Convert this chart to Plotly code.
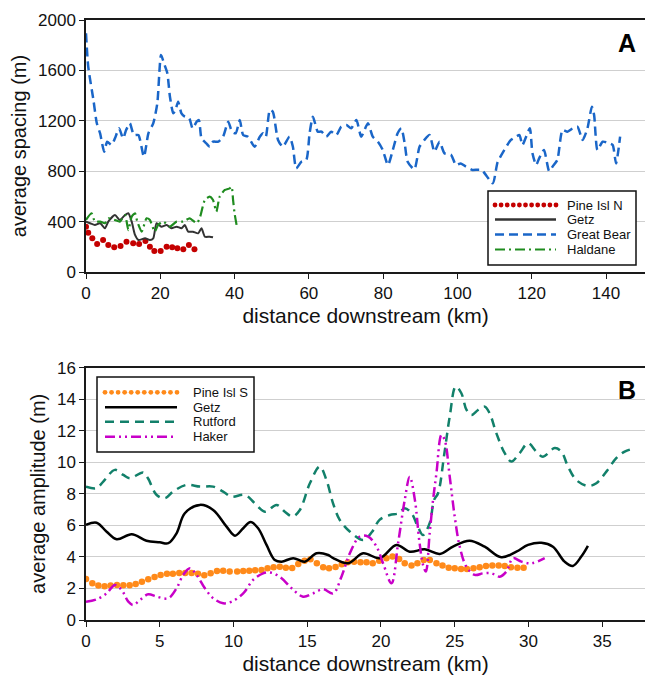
import plotly.graph_objects as go

# ---------------- Panel A: average spacing (m) ----------------
gb_km = [0, 0.6, 2.0, 2.9, 3.8, 4.9, 5.7, 6.9, 7.8, 8.9, 10.0, 10.8, 11.8, 12.9, 14.1, 15.6, 16.8, 18.1, 19.2, 20.2,
         21.0, 21.9, 22.6, 23.5, 24.1, 24.8, 25.7, 26.6, 27.8, 28.7, 29.8, 30.4, 31.1, 32.4, 33.3, 34.2, 35.6, 36.9,
         38.3, 39.3, 40.3, 41.4, 42.3, 43.6, 45.4, 46.8, 47.7, 48.4, 49.5, 50.3, 51.7, 53.0, 54.8, 55.7, 56.6, 58.0,
         59.3, 60.2, 61.1, 62.4, 63.4, 64.7, 66.0, 67.4, 68.7, 70.1, 71.4, 72.8, 74.1, 75.9, 77.2, 78.6, 79.9, 81.3,
         82.6, 83.9, 84.9, 85.8, 86.6, 88.4, 89.8, 91.1, 92.5, 93.8, 95.2, 96.5, 98.3, 99.6, 100.9, 102.3, 104.0,
         106.5, 109.5, 110.8, 112.6, 114.4, 115.8, 116.7, 117.5, 118.5, 119.5, 120.2, 121.2, 122.0, 123.3, 124.7,
         125.6, 126.9, 128.3, 129.6, 131.0, 132.3, 133.7, 135.0, 136.2, 136.8, 137.7, 139.1, 140.9, 141.8, 142.7, 143.8]
gb_val = [1894, 1630, 1365, 1182, 1100, 955, 1034, 1008, 1061, 1140, 1061, 1127, 1180, 1087, 1087, 915, 1101, 1180,
          1339, 1722, 1656, 1577, 1391, 1259, 1286, 1352, 1259, 1233, 1220, 1140, 1193, 1206, 1061, 1021, 994, 1034,
          1034, 1074, 1193, 1114, 1101, 1206, 1087, 1074, 994, 1074, 1101, 1074, 1286, 1272, 1048, 994, 1074, 994,
          823, 875, 889, 1101, 1233, 1114, 1114, 1074, 1114, 1087, 1153, 1167, 1140, 1206, 1074, 1180, 1074, 1034,
          968, 849, 968, 1101, 1140, 1021, 875, 815, 994, 1048, 1087, 955, 1034, 942, 929, 849, 862, 836, 810, 810,
          704, 870, 968, 1048, 1074, 1087, 1008, 1074, 1140, 942, 849, 902, 968, 800, 836, 889, 1127, 1114, 1140,
          1153, 1048, 1140, 1312, 1246, 968, 1034, 1021, 1008, 862, 1074]

hd_km = [0, 1.5, 2.4, 3.8, 5.1, 6.0, 7.8, 9.1, 10.5, 11.4, 12.3, 13.2, 13.8, 15.0, 16.3, 17.2, 18.5, 19.4, 20.8, 22.6,
         24.4, 26.2, 27.9, 29.8, 30.6, 32.0, 33.3, 34.2, 35.1, 36.0, 37.4, 38.7, 39.2, 39.6, 40.0, 40.7]
hd_val = [413, 466, 400, 400, 387, 426, 413, 400, 452, 333, 439, 466, 400, 320, 426, 413, 320, 373, 400, 360, 400,
          400, 426, 387, 426, 571, 598, 571, 479, 598, 651, 664, 677, 571, 466, 347]

ga_km = [0, 1.1, 2.4, 3.8, 5.1, 6.0, 7.8, 9.1, 10.5, 11.4, 12.3, 13.2, 14.1, 15.9, 17.2, 18.1, 19.0, 20.3, 21.7, 23.0,
         24.4, 25.7, 26.6, 27.5, 28.8, 30.2, 31.1, 32.0, 33.3, 34.2]
ga_val = [400, 387, 373, 387, 347, 400, 452, 413, 452, 466, 400, 294, 254, 267, 254, 267, 387, 360, 373, 347, 360,
          347, 373, 320, 320, 307, 347, 280, 280, 275]

pn_km = [0, 0.6, 1.7, 3.0, 4.6, 6.0, 7.6, 9.3, 10.9, 12.7, 14.3, 16.0, 17.2, 18.4, 20.1, 21.7, 23.2, 24.6, 26.2,
         27.7, 29.2]
pn_val = [360, 312, 267, 222, 254, 214, 196, 206, 241, 228, 222, 246, 201, 167, 167, 201, 196, 188, 180, 214, 180]

# ---------------- Panel B: average amplitude (m) ----------------
ps_km = [0, 0.43, 0.84, 1.26, 1.67, 2.1, 2.53, 2.96, 3.37, 3.79, 4.22, 4.65, 5.06, 5.49, 5.89, 6.32, 6.73, 7.16,
         7.59, 8.02, 8.45, 8.88, 9.3, 9.74, 10.25, 10.66, 11.07, 11.47, 11.9, 12.31, 12.72, 13.14, 13.55, 13.98,
         14.39, 14.82, 15.22, 15.65, 16.08, 16.48, 16.92, 17.34, 17.75, 18.18, 18.61, 19.02, 19.44, 19.88, 20.37,
         20.78, 21.23, 21.61, 22.07, 22.47, 22.9, 23.31, 23.76, 24.17, 24.59, 25.0, 25.43, 25.83, 26.27, 26.69,
         27.12, 27.55, 27.98, 28.39, 28.81, 29.25, 29.67]
ps_val = [2.6, 2.33, 2.18, 2.14, 2.18, 2.22, 2.2, 2.2, 2.28, 2.43, 2.58, 2.73, 2.86, 2.94, 2.94, 2.98, 2.98, 2.98,
          2.94, 2.84, 2.96, 3.11, 3.13, 3.07, 3.07, 3.11, 3.13, 3.15, 3.17, 3.28, 3.34, 3.38, 3.32, 3.3, 3.55, 3.76,
          3.85, 3.6, 3.34, 3.28, 3.36, 3.53, 3.66, 3.7, 3.66, 3.66, 3.6, 3.75, 3.91, 4.02, 3.87, 3.6, 3.45, 3.6,
          3.81, 3.81, 3.6, 3.45, 3.32, 3.28, 3.24, 3.24, 3.28, 3.34, 3.43, 3.45, 3.45, 3.43, 3.34, 3.32, 3.32]

gz_km = [0, 0.72, 1.4, 2.08, 3.1, 4.1, 5.0, 5.58, 6.14, 6.7, 7.72, 8.62, 9.53, 10.1, 10.66, 11.16, 11.67, 12.24,
         12.8, 13.26, 14.05, 14.84, 15.63, 16.42, 16.76, 17.77, 18.79, 19.92, 21.05, 21.95, 22.97, 23.98, 24.88,
         26.0, 27.03, 28.16, 29.18, 29.97, 30.87, 31.66, 32.45, 33.01, 33.58, 34.03]
gz_val = [6.03, 6.17, 5.6, 5.12, 5.44, 5.03, 4.93, 4.87, 5.5, 6.77, 7.3, 6.98, 5.92, 5.35, 5.82, 6.22, 5.82, 4.76,
          3.81, 3.7, 3.92, 3.7, 4.23, 4.12, 3.92, 3.6, 4.23, 3.92, 4.76, 4.33, 4.48, 4.19, 4.65, 5.03, 4.65, 3.98,
          4.33, 4.76, 4.9, 4.65, 3.7, 3.43, 4.02, 4.7]

rf_km = [0, 0.72, 1.17, 1.96, 2.53, 2.98, 3.88, 4.2, 4.79, 5.35, 5.9, 6.82, 7.72, 8.62, 9.3, 9.87, 10.77, 11.45,
         12.13, 12.92, 13.48, 14.0, 14.5, 15.18, 15.85, 16.3, 16.75, 17.2, 17.9, 18.8, 19.4, 19.9, 20.6, 21.2, 21.6,
         22.07, 22.5, 22.85, 23.3, 23.6, 23.87, 24.3, 24.66, 25.07, 25.45, 25.8, 26.13, 26.58, 27.03, 27.37, 27.82,
         28.39, 28.84, 29.4, 29.97, 30.53, 30.98, 31.78, 32.23, 32.68, 33.24, 34.03, 34.6, 35.28, 35.95, 36.52, 37.04]
rf_val = [8.46, 8.36, 8.78, 9.52, 9.2, 8.99, 9.35, 8.99, 7.93, 7.72, 8.14, 8.57, 8.46, 8.46, 8.14, 7.82, 7.93, 7.4,
          6.87, 7.3, 6.87, 6.56, 6.98, 8.67, 9.73, 8.88, 7.4, 6.35, 5.6, 5.08, 5.6, 6.35, 6.66, 6.77, 7.09, 6.77,
          5.92, 5.39, 6.14, 7.61, 8.04, 10.58, 12.9, 14.8, 14.38, 13.32, 13.0, 13.32, 13.53, 13.1, 11.85, 10.58,
          10.05, 10.58, 11.21, 10.68, 10.36, 10.9, 10.68, 9.73, 8.88, 8.5, 8.67, 9.41, 10.26, 10.68, 10.85]

hk_km = [0, 0.72, 1.4, 1.96, 2.42, 2.87, 3.2, 3.66, 4.22, 4.79, 5.58, 6.14, 6.59, 7.05, 7.5, 8.06, 8.62, 9.3, 9.87,
         10.66, 11.33, 12.01, 12.58, 13.26, 13.94, 14.72, 15.4, 16.08, 16.76, 17.32, 17.89, 18.56, 19.13, 19.7,
         20.14, 20.71, 21.16, 21.61, 21.95, 22.3, 22.6, 22.85, 23.04, 23.3, 23.53, 23.76, 24.1, 24.32, 24.66, 25.0,
         25.34, 25.79, 26.36, 26.92, 27.49, 28.05, 28.5, 28.95, 29.52, 30.2, 31.1]
hk_val = [1.16, 1.31, 1.69, 2.22, 1.9, 1.16, 0.95, 1.27, 1.63, 1.48, 1.38, 2.01, 2.86, 3.28, 2.86, 2.01, 1.38, 1.06,
          1.16, 1.69, 2.54, 2.96, 3.0, 2.65, 2.01, 1.48, 1.69, 1.95, 1.69, 2.75, 4.23, 5.29, 5.29, 4.65, 3.6, 2.33,
          4.87, 7.61, 9.09, 7.6, 5.0, 3.5, 3.07, 5.5, 7.61, 9.31, 11.74, 11.42, 9.09, 6.55, 4.65, 3.38, 2.86, 2.96,
          2.96, 2.75, 3.07, 3.92, 3.7, 3.6, 3.92]

a_yticks = [0, 400, 800, 1200, 1600, 2000]
a_xticks = [0, 20, 40, 60, 80, 100, 120, 140]
b_yticks = [0, 2, 4, 6, 8, 10, 12, 14, 16]
b_xticks = [0, 5, 10, 15, 20, 25, 30, 35]

a_names = ["Pine Isl N", "Getz", "Great Bear", "Haldane"]
b_names = ["Pine Isl S", "Getz", "Rutford", "Haker"]

# ---------------- styling ----------------
FONT = "Liberation Sans, Arial, sans-serif"
C_RED = "#c40000"
C_GETZA = "#333333"
C_BLUE = "#1a66c8"
C_GREEN = "#1f8c1f"
C_ORANGE = "#ff8a1a"
C_TEAL = "#12806a"
C_MAG = "#c800c8"

DASH_GB = "9px,5px"
DASH_HD = "10px,4px,2px,4px"
DASH_RF = "9px,6px"
DASH_HK = "10px,4px,2px,4px,2px,4px"

W, H = 645, 677
ML, MR, MT, MB = 86, 0, 20, 57
PW, PH = W - ML - MR, H - MT - MB


def px_x(px):
    return (px - ML) / PW


def px_y(py):
    return (H - MB - py) / PH


fig = go.Figure()

# Panel A traces
fig.add_trace(go.Scatter(x=pn_km, y=pn_val, mode="markers", name=a_names[0],
                         marker=dict(color=C_RED, size=6), xaxis="x", yaxis="y"))
fig.add_trace(go.Scatter(x=ga_km, y=ga_val, mode="lines", name=a_names[1],
                         line=dict(color=C_GETZA, width=2, shape="spline", smoothing=0.6), xaxis="x", yaxis="y"))
fig.add_trace(go.Scatter(x=gb_km, y=gb_val, mode="lines", name=a_names[2],
                         line=dict(color=C_BLUE, width=2.5, dash=DASH_GB, shape="spline", smoothing=0.6),
                         xaxis="x", yaxis="y"))
fig.add_trace(go.Scatter(x=hd_km, y=hd_val, mode="lines", name=a_names[3],
                         line=dict(color=C_GREEN, width=2.2, dash=DASH_HD, shape="spline", smoothing=0.6),
                         xaxis="x", yaxis="y"))

# Panel B traces
fig.add_trace(go.Scatter(x=ps_km, y=ps_val, mode="markers", name=b_names[0],
                         marker=dict(color=C_ORANGE, size=6.5), xaxis="x2", yaxis="y2"))
fig.add_trace(go.Scatter(x=gz_km, y=gz_val, mode="lines", name=b_names[1],
                         line=dict(color="#000000", width=2.5, shape="spline", smoothing=1.0), xaxis="x2", yaxis="y2"))
fig.add_trace(go.Scatter(x=rf_km, y=rf_val, mode="lines", name=b_names[2],
                         line=dict(color=C_TEAL, width=2.5, dash=DASH_RF, shape="spline", smoothing=1.0),
                         xaxis="x2", yaxis="y2"))
fig.add_trace(go.Scatter(x=hk_km, y=hk_val, mode="lines", name=b_names[3],
                         line=dict(color=C_MAG, width=2.5, dash=DASH_HK, shape="spline", smoothing=1.0),
                         xaxis="x2", yaxis="y2"))

# ---------------- legend boxes (drawn as layout decorations) ----------------
shapes = []
annotations = []


def legend_box(box, rows, sample_x, text_x, entries, names):
    x0, x1, y0, y1 = box
    shapes.append(dict(type="rect", xref="paper", yref="paper", x0=px_x(x0), x1=px_x(x1), y0=px_y(y1),
                       y1=px_y(y0), line=dict(color="#111", width=1.5), fillcolor="white", layer="above"))
    for ry, (kind, color, dash, width), name in zip(rows, entries, names):
        sx0, sx1 = sample_x
        if kind == "dots":
            n = 11 if (sx1 - sx0) < 66 else 12
            step = (sx1 - sx0) / (n - 1)
            r = 2.4
            for i in range(n):
                cx = sx0 + i * step
                shapes.append(dict(type="circle", xref="paper", yref="paper", x0=px_x(cx - r), x1=px_x(cx + r),
                                   y0=px_y(ry + r), y1=px_y(ry - r), fillcolor=color,
                                   line=dict(color=color, width=0), layer="above"))
        else:
            shapes.append(dict(type="line", xref="paper", yref="paper", x0=px_x(sx0), x1=px_x(sx1),
                               y0=px_y(ry), y1=px_y(ry), line=dict(color=color, width=width, dash=dash),
                               layer="above"))
        annotations.append(dict(text=name, xref="paper", yref="paper", x=px_x(text_x), y=px_y(ry),
                                xanchor="left", yanchor="middle", showarrow=False, borderpad=0,
                                font=dict(family=FONT, size=13, color="#111")))


legend_box((488, 636, 191, 265), [205, 219.5, 234.5, 249.5], (495, 556), 566,
           [("dots", C_RED, None, 0), ("line", C_GETZA, "solid", 2.5), ("line", C_BLUE, DASH_GB, 2.5),
            ("line", C_GREEN, DASH_HD, 2.2)], a_names)
legend_box((97, 254, 377, 452), [392.3, 407.3, 421.7, 436.7], (105, 177), 192,
           [("dots", C_ORANGE, None, 0), ("line", "#000", "solid", 2.5), ("line", C_TEAL, DASH_RF, 2.5),
            ("line", C_MAG, DASH_HK, 2.5)], b_names)

annotations += [
    dict(text="<b>A</b>", xref="paper", yref="paper", x=px_x(627), y=px_y(43), showarrow=False,
         font=dict(family=FONT, size=25, color="#000"), xanchor="center", yanchor="middle"),
    dict(text="<b>B</b>", xref="paper", yref="paper", x=px_x(627), y=px_y(390), showarrow=False,
         font=dict(family=FONT, size=25, color="#000"), xanchor="center", yanchor="middle"),
]

axis_common = dict(showline=True, linecolor="#1a1a1a", linewidth=1.5, ticks="outside", ticklen=5,
                   tickcolor="#1a1a1a", tickfont=dict(family=FONT, size=17, color="#111"), zeroline=False)

fig.update_layout(
    width=W, height=H,
    margin=dict(l=ML, r=MR, t=MT, b=MB),
    paper_bgcolor="white", plot_bgcolor="white",
    font=dict(family=FONT, color="#111"),
    showlegend=False,
    xaxis=dict(domain=[0, 1], anchor="y", range=[0, 150.5], tickvals=a_xticks, showgrid=False, mirror=True,
               title=dict(text="distance downstream (km)", font=dict(family=FONT, size=21), standoff=6),
               **axis_common),
    yaxis=dict(domain=[px_y(272), 1.0], anchor="x", range=[0, 2000], tickvals=a_yticks, showgrid=True,
               gridcolor="#cfcfcf", gridwidth=1,
               title=dict(text="average spacing (m)", font=dict(family=FONT, size=20), standoff=6),
               **axis_common),
    xaxis2=dict(domain=[0, 1], anchor="y2", range=[0, 37.9], tickvals=b_xticks, showgrid=False, mirror=True,
                title=dict(text="distance downstream (km)", font=dict(family=FONT, size=21), standoff=6),
                **axis_common),
    yaxis2=dict(domain=[0, px_y(367.7)], anchor="x2", range=[0, 16], tickvals=b_yticks, showgrid=True,
                gridcolor="#cfcfcf", gridwidth=1,
                title=dict(text="average amplitude (m)", font=dict(family=FONT, size=20), standoff=6),
                **axis_common),
    shapes=shapes,
    annotations=annotations,
)

fig.write_html("out.html")
